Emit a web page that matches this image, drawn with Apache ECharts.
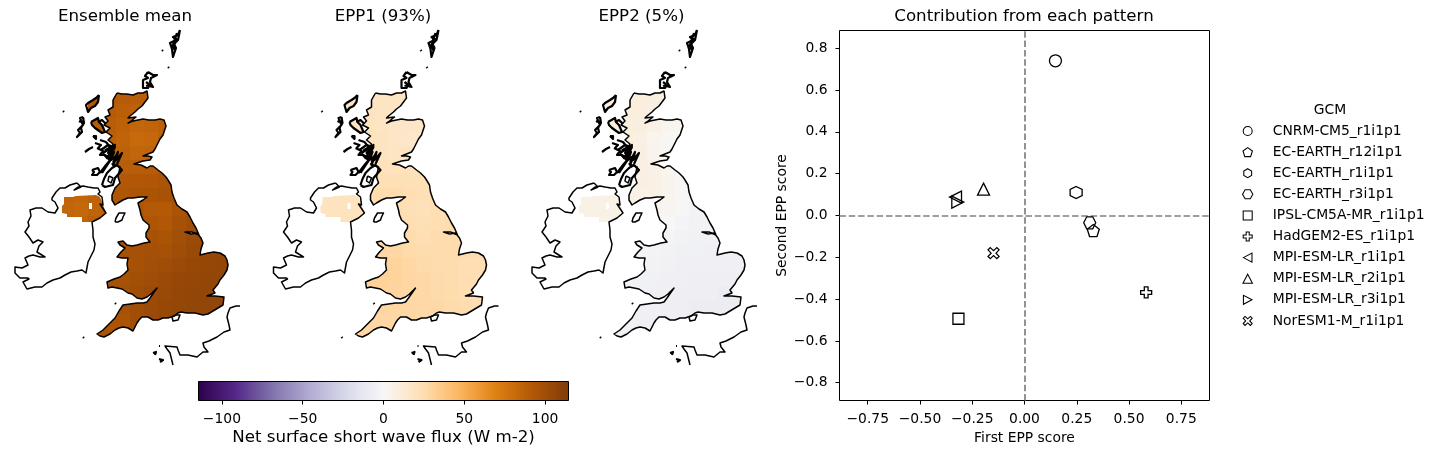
<!DOCTYPE html>
<html><head><meta charset="utf-8">
<style>html,body{margin:0;padding:0;background:#fff}#c{width:1440px;height:454px}</style>
<script src="https://cdn.jsdelivr.net/npm/echarts@6/dist/echarts.min.js"></script>
</head><body><div id="c"></div>
<script>
// ---- chart data -------------------------------------------------------
const panelTitles = ['Ensemble mean', 'EPP1 (93%)', 'EPP2 (5%)'];
const gcmNames = ['CNRM-CM5_r1i1p1','EC-EARTH_r12i1p1','EC-EARTH_r1i1p1','EC-EARTH_r3i1p1','IPSL-CM5A-MR_r1i1p1','HadGEM2-ES_r1i1p1','MPI-ESM-LR_r1i1p1','MPI-ESM-LR_r2i1p1','MPI-ESM-LR_r3i1p1','NorESM1-M_r1i1p1'];
const firstScore  = [0.148, 0.329, 0.247, 0.312, -0.316, 0.582, -0.330, -0.196, -0.319, -0.148];
const secondScore = [0.740, -0.072, 0.110, -0.035, -0.494, -0.368, 0.088, 0.126, 0.064, -0.180];
const xTicks = [-0.75,-0.5,-0.25,0,0.25,0.5,0.75];
const yTicks = [-0.8,-0.6,-0.4,-0.2,0,0.2,0.4,0.6,0.8];
const barTicks = [-100,-50,0,50,100];
const puOrR = ['#2d004b','#542788','#8073ac','#b2abd2','#d8daeb','#f7f7f7','#fee0b6','#fdb863','#e08214','#b35806','#7f3b08'];
const cellX = [67,81,95,109,123,137,151,165,179,193,207,221,235];
const cellY = [97,111,125,139,153,167,181,195,209,223,237,251,265,279,293,307,321,335];
const n = null;
const meanField = [
 [n,n,92,92,90,89,89,n,n,n,n,n,n],
 [n,n,92,90,88,87,88,n,n,n,n,n,n],
 [n,n,90,89,86,84,85,87,n,n,n,n,n],
 [n,n,n,88,85,82,83,86,n,n,n,n,n],
 [n,n,n,88,86,84,85,n,n,n,n,n,n],
 [n,n,n,90,89,89,90,92,n,n,n,n,n],
 [n,n,n,93,92,92,93,95,n,n,n,n,n],
 [85,84,86,93,94,95,95,96,96,n,n,n,n],
 [84,83,85,90,93,94,91,91,95,98,n,n,n],
 [85,85,88,n,n,96,94,92,97,100,n,n,n],
 [n,n,n,n,98,98,96,95,99,102,103,n,n],
 [n,n,n,n,97,97,98,97,100,103,104,105,n],
 [n,n,n,n,97,97,99,100,102,104,105,106,106],
 [n,n,n,97,97,99,100,102,104,105,106,106,n],
 [n,n,n,98,98,100,102,103,105,106,106,106,n],
 [n,n,n,98,97,100,102,104,105,106,106,106,n],
 [n,n,96,95,95,100,102,104,105,106,104,n,n],
 [n,n,95,95,95,98,n,n,n,n,n,n,n]
];
const epp1Field = [
 [n,n,19,18,18,18,18,n,n,n,n,n,n],
 [n,n,19,19,18,18,18,n,n,n,n,n,n],
 [n,n,19,19,18,17,17,17,n,n,n,n,n],
 [n,n,n,20,19,17,16,17,n,n,n,n,n],
 [n,n,n,20,19,18,18,n,n,n,n,n,n],
 [n,n,n,21,21,21,21,21,n,n,n,n,n],
 [n,n,n,23,23,23,23,23,n,n,n,n,n],
 [20,20,20,24,25,25,24,23,24,n,n,n,n],
 [20,20,20,23,24,24,23,22,24,25,n,n,n],
 [20,20,21,n,n,25,24,23,24,25,n,n,n],
 [n,n,n,n,26,26,25,24,25,25,25,n,n],
 [n,n,n,n,28,28,26,25,25,25,25,25,n],
 [n,n,n,n,30,30,28,26,25,25,24,24,24],
 [n,n,n,30,31,30,28,27,26,25,24,24,n],
 [n,n,n,30,31,29,28,27,26,25,24,24,n],
 [n,n,n,29,29,28,28,27,27,26,25,24,n],
 [n,n,28,28,28,28,28,27,27,26,25,n,n],
 [n,n,28,28,28,27,n,n,n,n,n,n,n]
];
const epp2Field = [
 [n,n,9,9,9,8,7,n,n,n,n,n,n],
 [n,n,9,9,9,7,6,n,n,n,n,n,n],
 [n,n,9,9,8,6,3,2,n,n,n,n,n],
 [n,n,n,9,7,3,1,1,n,n,n,n,n],
 [n,n,n,8,7,4,1,n,n,n,n,n,n],
 [n,n,n,8,7,6,3,1,n,n,n,n,n],
 [n,n,n,7,7,6,4,1,n,n,n,n,n],
 [6,6,6,6,6,6,4,1,-1,n,n,n,n],
 [6,6,6,5,5,4,2,-1,-3,-3,n,n,n],
 [6,6,5,n,n,2,0,-2,-4,-4,n,n,n],
 [n,n,n,n,-1,-1,-2,-4,-5,-5,-5,n,n],
 [n,n,n,n,-3,-3,-4,-5,-5,-6,-6,-6,n],
 [n,n,n,n,-4,-4,-5,-6,-6,-6,-6,-6,-6],
 [n,n,n,-4,-5,-5,-6,-6,-7,-7,-7,-7,n],
 [n,n,n,-4,-5,-6,-6,-7,-7,-7,-8,-8,n],
 [n,n,n,-5,-5,-6,-7,-7,-8,-8,-8,-8,n],
 [n,n,-5,-5,-6,-6,-7,-7,-8,-8,-8,n,n],
 [n,n,-5,-5,-6,-6,n,n,n,n,n,n,n]
];
const fields = [meanField, epp1Field, epp2Field];
// Coastlines, in map units
const greatBritain = [[117,93],[122,94],[127,94],[133,95],[138,93],[143,93],[147,91],[148,98],[145,102],[142,106],[138,109],[135,112],[130,116],[128,118],[136,117],[131,121],[128,123],[133,121],[138,120],[143,119],[149,120],[155,120],[160,119],[164,120],[166,126],[163,135],[160,139],[158,143],[155,149],[153,152],[148,154],[143,156],[148,156],[152,157],[150,160],[143,161],[134,164],[141,165],[147,168],[150,166],[153,166],[158,170],[162,173],[166,177],[168,180],[171,185],[172,192],[174,198],[177,205],[182,209],[187,212],[190,217],[193,223],[196,228],[199,235],[192,232],[185,232],[191,234],[197,233],[201,238],[203,243],[201,249],[200,255],[204,254],[208,253],[214,252],[220,253],[225,256],[227,260],[228,265],[227,270],[224,275],[220,280],[218,284],[213,290],[215,293],[207,296],[215,296],[224,297],[223,305],[218,308],[213,311],[208,314],[203,315],[195,313],[187,313],[181,312],[178,313],[174,316],[168,318],[163,318],[158,320],[153,320],[148,317],[142,317],[139,320],[137,323],[133,331],[128,328],[123,327],[119,328],[115,330],[110,334],[104,337],[100,336],[97,334],[103,330],[109,324],[115,318],[119,311],[123,305],[130,304],[137,303],[143,303],[147,302],[150,298],[157,288],[151,294],[147,297],[142,299],[137,298],[132,294],[128,293],[122,289],[117,288],[112,287],[108,288],[107,282],[114,279],[120,277],[124,274],[128,270],[127,264],[128,258],[122,258],[117,257],[121,252],[125,248],[120,245],[118,242],[123,241],[127,245],[132,246],[137,245],[144,243],[150,242],[146,237],[146,233],[149,228],[149,225],[143,220],[141,215],[140,210],[138,203],[143,200],[147,197],[140,197],[133,198],[128,198],[123,200],[118,203],[115,205],[112,200],[112,195],[115,188],[120,183],[118,177],[120,167],[112,164],[116,160],[108,158],[113,152],[105,150],[112,146],[113,144],[108,140],[112,136],[106,132],[110,128],[104,125],[108,121],[105,117],[110,115],[108,110],[113,107],[113,100],[117,93]];
const ireland = [[77,183],[81,187],[74,190],[78,187],[83,186],[88,187],[94,188],[98,188],[100,192],[98,194],[102,197],[103,205],[100,204],[106,213],[100,218],[96,220],[92,222],[93,230],[93,237],[95,244],[94,250],[91,256],[88,262],[86,273],[82,270],[77,271],[71,272],[65,275],[60,278],[53,280],[47,283],[42,287],[35,287],[27,289],[23,282],[29,279],[28,278],[20,278],[15,273],[15,267],[22,268],[28,265],[25,258],[29,256],[33,255],[40,257],[45,257],[37,252],[39,246],[43,242],[38,240],[33,243],[29,237],[25,232],[29,226],[28,222],[31,216],[30,210],[36,208],[42,208],[48,212],[55,213],[58,208],[55,202],[52,200],[52,198],[56,192],[60,188],[65,188],[70,185],[77,183]];
const northernIreland = [[64,197],[73,197],[76,196],[96,195],[100,197],[103,205],[106,213],[100,218],[96,220],[91,222],[82,222],[82,217],[67,217],[67,214],[62,213],[62,206],[64,204],[64,197],[89,203],[89,209],[92,209],[92,203],[89,203],[64,197]];
const lewis = [[99,95],[96,98],[93,100],[88,103],[86,105],[88,112],[91,108],[95,106],[98,102],[99,95]];
const skye = [[91,122],[98,118],[99,122],[102,125],[105,132],[102,133],[95,128],[92,125],[91,122]];
const thinIslands = [
 [[115,222],[116,218],[119,213],[125,213],[123,217],[122,220],[118,222],[115,222]],
 [[172,317],[176,315],[180,315],[178,320],[173,321],[172,317]],
 [[109,176],[108,181],[111,183],[113,178],[109,176]]
];
const denseIslands = [
 lewis, skye,
 [[85,152],[89,149],[93,147]],
 [[83,117],[80,118],[83,125],[78,130],[80,133],[77,137],[82,132],[81,128],[84,123],[83,117]],
 [[93,136],[96,136],[96,139],[93,136]],
 [[97,148],[101,150],[108,145],[115,147],[110,157],[104,155],[100,155],[103,151],[97,148]],
 [[103,153],[115,145],[108,153],[113,148],[107,158],[103,153]],
 [[92,170],[98,168],[100,172],[97,175],[92,175],[94,172],[92,170]],
 [[100,173],[106,165],[112,158],[108,164],[102,173]],
 [[102,185],[104,179],[107,173],[112,168],[117,165],[122,170],[115,178],[113,185],[105,187],[102,185]],
 [[113,162],[118,152],[116,160],[122,153],[117,164]],
 [[108,160],[114,152],[111,160],[116,156],[113,166]],
 [[98,122],[102,120],[106,124]],[[100,140],[106,142],[110,147]],[[95,143],[101,145],[98,148]],
 [[180,30],[178,35],[173,37],[176,40],[170,43],[172,49],[173,57],[176,48],[174,44],[178,40],[180,30]],
 [[177,33],[174,42],[175,50],[172,46],[177,38]],
 [[148,72],[153,75],[157,75],[151,78],[150,82],[153,87],[149,86],[148,88],[143,88],[143,80],[148,78],[145,76],[148,72]],
 [[146,82],[150,85],[146,86]],
 [[162,50],[163,51]],[[168,67],[169,68]],[[63,111],[64,112]],[[83,337],[84,338]],[[115,303],[116,304]],
 [[153,353],[156,352],[155,355]],[[159,346],[160,346]],[[159,359],[163,360],[160,362]],
 [[79,121],[81,122]]
];
const france = [[240,306],[236,306],[230,308],[228,313],[227,317],[229,325],[230,330],[224,332],[217,337],[209,341],[203,343],[204,347],[208,352],[203,352],[197,357],[188,355],[180,355],[178,350],[177,347],[165,346],[167,349],[170,353],[173,365]];
// ---- layout / style ---------------------------------------------------
const FONT = 'DejaVu Sans', TICK = 13.89, BIG = 16.67;
const panelLeft = [0, 258.5, 517];
const gcmSizes = [12,12,12,12,11,11,12,12,12,11], iconSize = 9;
const lt = 'path://M-1,0 L0.9,-1 L0.9,1 Z', rt = 'path://M1,0 L-0.9,-1 L-0.9,1 Z';
const gcmSymbols = ['circle','path://M0,-1 L0.95,-0.31 L0.59,0.81 L-0.59,0.81 L-0.95,-0.31 Z','path://M0,-1 L0.87,-0.5 L0.87,0.5 L0,1 L-0.87,0.5 L-0.87,-0.5 Z','path://M-1,0 L-0.5,-0.87 L0.5,-0.87 L1,0 L0.5,0.87 L-0.5,0.87 Z','path://M-1,-1 L1,-1 L1,1 L-1,1 Z','path://M-0.34,-1 L0.34,-1 L0.34,-0.34 L1,-0.34 L1,0.34 L0.34,0.34 L0.34,1 L-0.34,1 L-0.34,0.34 L-1,0.34 L-1,-0.34 L-0.34,-0.34 Z',lt,'path://M0,-1 L1,0.9 L-1,0.9 Z',rt,'path://M-0.6,-1 L0,-0.45 L0.6,-1 L1,-0.6 L0.45,0 L1,0.6 L0.6,1 L0,0.45 L-0.6,1 L-1,0.6 L-0.45,0 L-1,-0.6 Z'];
const coastData = [greatBritain, ireland, france].concat(thinIslands).map(c=>({coords:c}))
  .concat(denseIslands.map(c=>({coords:c, lineStyle:{width:2.2}})));
const maskedLand = [greatBritain, northernIreland, lewis, skye];

const cmap = v => echarts.color.lerp((v + 114.5) / 229, puOrR);
function cellData(f){ const out=[]; f.forEach((r,j)=>r.forEach((v,i)=>{ if(v!==null) out.push([cellX[i],cellY[j],v]); })); return out; }
function cellSeries(f, idx, land){
  return {type:'custom', coordinateSystem:'cartesian2d', xAxisIndex:idx, yAxisIndex:idx, silent:true, z:1,
    data:cellData(f), encode:{x:0,y:1},
    renderItem(params, api){
      const c = api.coord([api.value(0),api.value(1)]);
      return {type:'rect', shape:{x:c[0]-7, y:c[1]-7, width:14.6, height:14.6},
        style:{fill:cmap(api.value(2))},
        clipPath:{type:'polygon', shape:{points:land.map(p=>api.coord(p))}}};
    }};
}
const titleStyle = {fontFamily:FONT,fontSize:BIG,fontWeight:'normal',color:'#000'};
const grids=[], xAxes=[], yAxes=[], series=[], titles=[];
panelTitles.forEach((t,i)=>{
  grids.push({left:panelLeft[i], top:0, width:260, height:370});
  xAxes.push({type:'value', gridIndex:i, min:0, max:260, show:false});
  yAxes.push({type:'value', gridIndex:i, min:0, max:370, inverse:true, show:false});
  maskedLand.forEach(land=>series.push(cellSeries(fields[i], i, land)));
  series.push({type:'lines', coordinateSystem:'cartesian2d', xAxisIndex:i, yAxisIndex:i, polyline:true, silent:true, z:3,
    data:coastData, lineStyle:{color:'#000', width:1.5, opacity:1, join:'round'}});
  titles.push({text:t, left:[125,383,641.5][i], top:8, padding:0, textAlign:'center', textStyle:titleStyle});
});
titles.push({text:'Contribution from each pattern', left:1024, top:8, padding:0, textAlign:'center', textStyle:titleStyle});
titles.push({text:'GCM', left:1330, top:103, padding:0, textAlign:'center',
  textStyle:{fontFamily:FONT,fontSize:TICK,fontWeight:'normal',color:'#000'}});
// colourbar
const minus = s => String(s).replace('-','\u2212');
grids.push({left:198.5, top:381.5, width:370, height:19});
xAxes.push({type:'value', gridIndex:3, min:-114.5, max:114.5, position:'bottom',
  axisLine:{show:false,onZero:false}, splitLine:{show:false},
  axisTick:{show:true, length:4, customValues:barTicks, lineStyle:{color:'#000'}},
  axisLabel:{customValues:barTicks, fontFamily:FONT, fontSize:TICK, color:'#000', margin:12, formatter:v=>minus(v), hideOverlap:false, showMinLabel:true, showMaxLabel:true},
  name:'Net surface short wave flux (W m-2)', nameLocation:'middle', nameGap:29,
  nameTextStyle:{fontFamily:FONT,fontSize:BIG,color:'#000'}});
yAxes.push({type:'value', gridIndex:3, min:0, max:1, show:false});
series.push({type:'custom', coordinateSystem:'cartesian2d', xAxisIndex:3, yAxisIndex:3, silent:true, data:[[-114.5,1,114.5,0]],
  renderItem(params, api){
    const a=api.coord([api.value(0),api.value(1)]), b=api.coord([api.value(2),api.value(3)]);
    return {type:'rect', shape:{x:a[0],y:a[1],width:b[0]-a[0],height:b[1]-a[1]},
      style:{stroke:'#000',lineWidth:1,
        fill:new echarts.graphic.LinearGradient(0,0,1,0,puOrR.map((c,i)=>({offset:i/10,color:c})))}};
  }});
// scatter
grids.push({left:839.5, top:30.5, width:370, height:370, show:true, borderColor:'#000', borderWidth:1, backgroundColor:'transparent'});
xAxes.push({type:'value', gridIndex:4, min:-0.885, max:0.885, position:'bottom', splitLine:{show:false},
  axisLine:{show:false,onZero:false},
  axisTick:{show:true,length:4,customValues:xTicks,lineStyle:{color:'#000'}},
  axisLabel:{customValues:xTicks,fontFamily:FONT,fontSize:TICK,color:'#000',margin:12,formatter:v=>minus(v.toFixed(2))},
  name:'First EPP score', nameLocation:'middle', nameGap:30, nameTextStyle:{fontFamily:FONT,fontSize:TICK,color:'#000'}});
yAxes.push({type:'value', gridIndex:4, min:-0.885, max:0.885, position:'left', splitLine:{show:false},
  axisLine:{show:false,onZero:false},
  axisTick:{show:true,length:4,customValues:yTicks,lineStyle:{color:'#000'}},
  axisLabel:{customValues:yTicks,fontFamily:FONT,fontSize:TICK,color:'#000',margin:12,formatter:v=>minus(v.toFixed(1))},
  name:'Second EPP score', nameLocation:'middle', nameGap:50, nameTextStyle:{fontFamily:FONT,fontSize:TICK,color:'#000'}});
gcmNames.forEach((name,i)=>{
  series.push({type:'scatter', name, xAxisIndex:4, yAxisIndex:4, symbol:gcmSymbols[i],
    symbolSize:gcmSizes[i], z:5, silent:true,
    itemStyle:{color:'rgba(255,255,255,0)', borderColor:'#000', borderWidth:1.3, opacity:1},
    data:[[firstScore[i],secondScore[i]]],
    markLine:i===0?{silent:true,symbol:'none',label:{show:false},animation:false,
      lineStyle:{color:'#808080',width:1.7,type:[6.5,2.8]},
      data:[{xAxis:0},{yAxis:0}]}:undefined});
});
const chart = echarts.init(document.getElementById('c'), null, {renderer:'canvas'});
chart.setOption({
  animation:false, backgroundColor:'#fff', title:titles, grid:grids, xAxis:xAxes, yAxis:yAxes, series,
  legend:{orient:'vertical', left:1237, top:119, itemWidth:40, itemHeight:iconSize, itemGap:7.1, selectedMode:false,
    symbolKeepAspect:true, itemStyle:{borderWidth:1.05},
    data:gcmNames.map((name,i)=>({name,icon:gcmSymbols[i]})),
    textStyle:{fontFamily:FONT,fontSize:TICK,color:'#000'}}
});
</script></body></html>
